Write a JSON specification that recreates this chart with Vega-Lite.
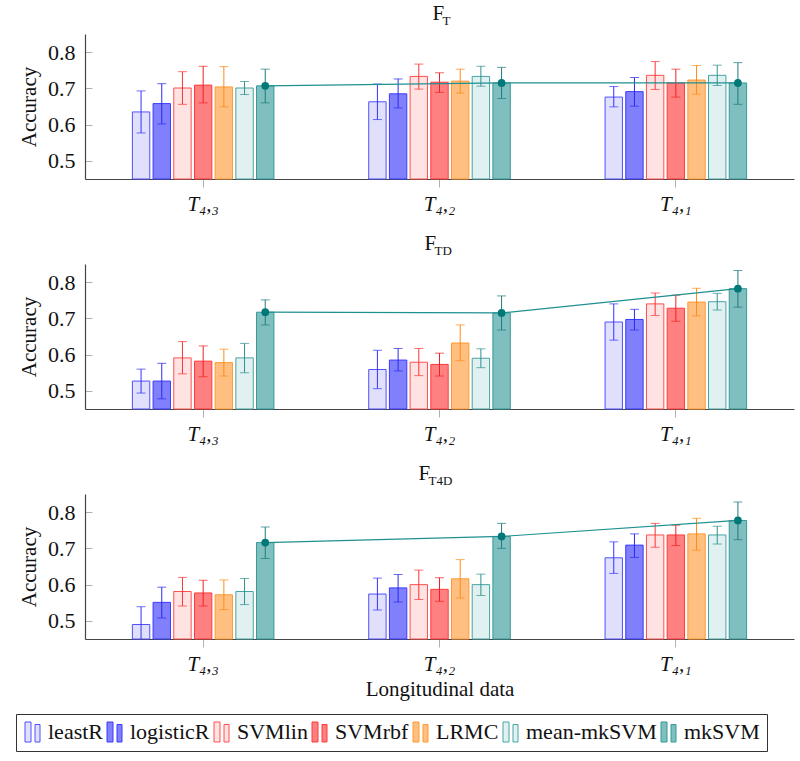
{
  "$schema": "https://vega.github.io/schema/vega-lite/v6.json",
  "padding": {"left": 15, "top": 3, "right": 4, "bottom": 5},
  "config": {
    "font": "Liberation Serif",
    "view": {"stroke": null},
    "style": {"guide-label": {"font": "Liberation Serif"}, "guide-title": {"font": "Liberation Serif"}, "group-title": {"font": "Liberation Serif"}, "group-subtitle": {"font": "Liberation Serif"}},
    "axis": {"grid": false, "domainColor": "#444", "domainWidth": 1.2, "tickColor": "#b0b0b0", "labelFont": "Liberation Serif", "titleFont": "Liberation Serif", "labelColor": "#111", "titleColor": "#111", "titleFontWeight": "normal"},
    "legend": {"labelFont": "Liberation Serif", "orient": "none", "legendX": -69, "legendY": 680, "direction": "horizontal", "symbolType": "M-0.9,-1H-0.3V1H-0.9Z M0.1,-0.75H0.6V1H0.1Z", "symbolSize": 400, "symbolStrokeWidth": 1, "labelFontSize": 22, "labelColor": "#111", "labelOffset": 3, "columnPadding": 2, "strokeColor": "#333", "padding": 7},
    "title": {"font": "Liberation Serif", "fontWeight": "normal", "color": "#111", "subtitleColor": "#111", "subtitleFont": "Liberation Serif"}
  },
  "datasets": {
    "d": [
      {"f": "FT", "t": "T₄,₃", "m": "leastR", "v": 0.635, "lo": 0.577, "hi": 0.693},
      {"f": "FT", "t": "T₄,₃", "m": "logisticR", "v": 0.658, "lo": 0.602, "hi": 0.713},
      {"f": "FT", "t": "T₄,₃", "m": "SVMlin", "v": 0.701, "lo": 0.656, "hi": 0.746},
      {"f": "FT", "t": "T₄,₃", "m": "SVMrbf", "v": 0.709, "lo": 0.660, "hi": 0.761},
      {"f": "FT", "t": "T₄,₃", "m": "LRMC", "v": 0.704, "lo": 0.649, "hi": 0.760},
      {"f": "FT", "t": "T₄,₃", "m": "mean-mkSVM", "v": 0.701, "lo": 0.683, "hi": 0.719},
      {"f": "FT", "t": "T₄,₃", "m": "mkSVM", "v": 0.707, "lo": 0.660, "hi": 0.753},
      {"f": "FT", "t": "T₄,₂", "m": "leastR", "v": 0.663, "lo": 0.614, "hi": 0.712},
      {"f": "FT", "t": "T₄,₂", "m": "logisticR", "v": 0.685, "lo": 0.646, "hi": 0.726},
      {"f": "FT", "t": "T₄,₂", "m": "SVMlin", "v": 0.733, "lo": 0.698, "hi": 0.767},
      {"f": "FT", "t": "T₄,₂", "m": "SVMrbf", "v": 0.717, "lo": 0.689, "hi": 0.743},
      {"f": "FT", "t": "T₄,₂", "m": "LRMC", "v": 0.720, "lo": 0.687, "hi": 0.753},
      {"f": "FT", "t": "T₄,₂", "m": "mean-mkSVM", "v": 0.733, "lo": 0.706, "hi": 0.761},
      {"f": "FT", "t": "T₄,₂", "m": "mkSVM", "v": 0.715, "lo": 0.672, "hi": 0.758},
      {"f": "FT", "t": "T₄,₁", "m": "leastR", "v": 0.676, "lo": 0.649, "hi": 0.705},
      {"f": "FT", "t": "T₄,₁", "m": "logisticR", "v": 0.691, "lo": 0.651, "hi": 0.730},
      {"f": "FT", "t": "T₄,₁", "m": "SVMlin", "v": 0.736, "lo": 0.697, "hi": 0.774},
      {"f": "FT", "t": "T₄,₁", "m": "SVMrbf", "v": 0.715, "lo": 0.676, "hi": 0.753},
      {"f": "FT", "t": "T₄,₁", "m": "LRMC", "v": 0.723, "lo": 0.684, "hi": 0.763},
      {"f": "FT", "t": "T₄,₁", "m": "mean-mkSVM", "v": 0.736, "lo": 0.708, "hi": 0.764},
      {"f": "FT", "t": "T₄,₁", "m": "mkSVM", "v": 0.715, "lo": 0.656, "hi": 0.771},
      {"f": "FTD", "t": "T₄,₃", "m": "leastR", "v": 0.527, "lo": 0.494, "hi": 0.560},
      {"f": "FTD", "t": "T₄,₃", "m": "logisticR", "v": 0.527, "lo": 0.478, "hi": 0.576},
      {"f": "FTD", "t": "T₄,₃", "m": "SVMlin", "v": 0.591, "lo": 0.547, "hi": 0.636},
      {"f": "FTD", "t": "T₄,₃", "m": "SVMrbf", "v": 0.582, "lo": 0.539, "hi": 0.624},
      {"f": "FTD", "t": "T₄,₃", "m": "LRMC", "v": 0.578, "lo": 0.541, "hi": 0.615},
      {"f": "FTD", "t": "T₄,₃", "m": "mean-mkSVM", "v": 0.591, "lo": 0.550, "hi": 0.631},
      {"f": "FTD", "t": "T₄,₃", "m": "mkSVM", "v": 0.717, "lo": 0.682, "hi": 0.751},
      {"f": "FTD", "t": "T₄,₂", "m": "leastR", "v": 0.559, "lo": 0.506, "hi": 0.612},
      {"f": "FTD", "t": "T₄,₂", "m": "logisticR", "v": 0.585, "lo": 0.555, "hi": 0.617},
      {"f": "FTD", "t": "T₄,₂", "m": "SVMlin", "v": 0.579, "lo": 0.542, "hi": 0.617},
      {"f": "FTD", "t": "T₄,₂", "m": "SVMrbf", "v": 0.573, "lo": 0.541, "hi": 0.604},
      {"f": "FTD", "t": "T₄,₂", "m": "LRMC", "v": 0.632, "lo": 0.583, "hi": 0.682},
      {"f": "FTD", "t": "T₄,₂", "m": "mean-mkSVM", "v": 0.590, "lo": 0.564, "hi": 0.616},
      {"f": "FTD", "t": "T₄,₂", "m": "mkSVM", "v": 0.715, "lo": 0.668, "hi": 0.762},
      {"f": "FTD", "t": "T₄,₁", "m": "leastR", "v": 0.690, "lo": 0.640, "hi": 0.740},
      {"f": "FTD", "t": "T₄,₁", "m": "logisticR", "v": 0.697, "lo": 0.668, "hi": 0.725},
      {"f": "FTD", "t": "T₄,₁", "m": "SVMlin", "v": 0.740, "lo": 0.708, "hi": 0.770},
      {"f": "FTD", "t": "T₄,₁", "m": "SVMrbf", "v": 0.728, "lo": 0.692, "hi": 0.764},
      {"f": "FTD", "t": "T₄,₁", "m": "LRMC", "v": 0.745, "lo": 0.707, "hi": 0.783},
      {"f": "FTD", "t": "T₄,₁", "m": "mean-mkSVM", "v": 0.746, "lo": 0.723, "hi": 0.769},
      {"f": "FTD", "t": "T₄,₁", "m": "mkSVM", "v": 0.782, "lo": 0.731, "hi": 0.832},
      {"f": "FT4D", "t": "T₄,₃", "m": "leastR", "v": 0.490, "lo": 0.441, "hi": 0.539},
      {"f": "FT4D", "t": "T₄,₃", "m": "logisticR", "v": 0.551, "lo": 0.508, "hi": 0.593},
      {"f": "FT4D", "t": "T₄,₃", "m": "SVMlin", "v": 0.581, "lo": 0.541, "hi": 0.620},
      {"f": "FT4D", "t": "T₄,₃", "m": "SVMrbf", "v": 0.577, "lo": 0.541, "hi": 0.612},
      {"f": "FT4D", "t": "T₄,₃", "m": "LRMC", "v": 0.572, "lo": 0.531, "hi": 0.613},
      {"f": "FT4D", "t": "T₄,₃", "m": "mean-mkSVM", "v": 0.581, "lo": 0.545, "hi": 0.617},
      {"f": "FT4D", "t": "T₄,₃", "m": "mkSVM", "v": 0.716, "lo": 0.672, "hi": 0.759},
      {"f": "FT4D", "t": "T₄,₂", "m": "leastR", "v": 0.574, "lo": 0.530, "hi": 0.618},
      {"f": "FT4D", "t": "T₄,₂", "m": "logisticR", "v": 0.591, "lo": 0.552, "hi": 0.628},
      {"f": "FT4D", "t": "T₄,₂", "m": "SVMlin", "v": 0.600, "lo": 0.559, "hi": 0.640},
      {"f": "FT4D", "t": "T₄,₂", "m": "SVMrbf", "v": 0.587, "lo": 0.554, "hi": 0.619},
      {"f": "FT4D", "t": "T₄,₂", "m": "LRMC", "v": 0.616, "lo": 0.563, "hi": 0.669},
      {"f": "FT4D", "t": "T₄,₂", "m": "mean-mkSVM", "v": 0.600, "lo": 0.570, "hi": 0.629},
      {"f": "FT4D", "t": "T₄,₂", "m": "mkSVM", "v": 0.733, "lo": 0.700, "hi": 0.769},
      {"f": "FT4D", "t": "T₄,₁", "m": "leastR", "v": 0.674, "lo": 0.631, "hi": 0.718},
      {"f": "FT4D", "t": "T₄,₁", "m": "logisticR", "v": 0.709, "lo": 0.675, "hi": 0.740},
      {"f": "FT4D", "t": "T₄,₁", "m": "SVMlin", "v": 0.737, "lo": 0.703, "hi": 0.769},
      {"f": "FT4D", "t": "T₄,₁", "m": "SVMrbf", "v": 0.737, "lo": 0.708, "hi": 0.764},
      {"f": "FT4D", "t": "T₄,₁", "m": "LRMC", "v": 0.740, "lo": 0.695, "hi": 0.783},
      {"f": "FT4D", "t": "T₄,₁", "m": "mean-mkSVM", "v": 0.737, "lo": 0.712, "hi": 0.761},
      {"f": "FT4D", "t": "T₄,₁", "m": "mkSVM", "v": 0.777, "lo": 0.724, "hi": 0.828}
    ]
  },
  "data": {"name": "d"},
  "spacing": 19,
  "resolve": {"scale": {"fill": "shared", "stroke": "shared", "color": "shared"}, "legend": {"fill": "shared", "stroke": "shared"}},
  "vconcat": [
    {
      "title": {"text": "F", "subtitle": "\u2800T", "anchor": "middle", "align": "left", "dx": -7, "fontSize": 21, "subtitleFontSize": 13, "subtitlePadding": -9, "offset": 6},
      "width": 709, "height": 145,
      "transform": [{"filter": "datum.f == 'FT'"}],
      "encoding": {
        "x": {"field": "t", "type": "nominal", "sort": ["T₄,₃", "T₄,₂", "T₄,₁"], "scale": {"paddingInner": 0.3135, "paddingOuter": 0.1567}, "axis": {"title": null, "labelAngle": 0, "labelFont": "Liberation Serif", "labelFontSize": 21, "labelFontStyle": "italic", "tickSize": 8, "labelPadding": 6}},
        "xOffset": {"field": "m", "type": "nominal", "sort": ["leastR", "logisticR", "SVMlin", "SVMrbf", "LRMC", "mean-mkSVM", "mkSVM"], "scale": {"paddingInner": 0.16, "paddingOuter": 0.5}}
      },
      "layer": [
        {"mark": {"type": "bar", "strokeWidth": 1},
         "encoding": {
           "y": {"field": "v", "type": "quantitative", "title": "Accuracy", "scale": {"domain": [0.45, 0.85], "zero": false, "nice": false}, "axis": {"values": [0.5, 0.6, 0.7, 0.8], "format": ".1f", "labelFont": "Liberation Serif", "labelFontSize": 22, "titleFontSize": 21, "tickSize": -7, "labelPadding": 17, "titlePadding": 8}},
           "y2": {"datum": 0.45},
           "fill": {"field": "m", "type": "nominal", "sort": ["leastR", "logisticR", "SVMlin", "SVMrbf", "LRMC", "mean-mkSVM", "mkSVM"], "scale": {"domain": ["leastR", "logisticR", "SVMlin", "SVMrbf", "LRMC", "mean-mkSVM", "mkSVM"], "range": ["#e0e0fc", "#8080fc", "#ffe3e3", "#ff8080", "#ffbf80", "#e1f1f1", "#80bfbf"]}, "legend": {"title": null, "labelFont": "Liberation Serif"}},
           "stroke": {"field": "m", "type": "nominal", "sort": ["leastR", "logisticR", "SVMlin", "SVMrbf", "LRMC", "mean-mkSVM", "mkSVM"], "scale": {"domain": ["leastR", "logisticR", "SVMlin", "SVMrbf", "LRMC", "mean-mkSVM", "mkSVM"], "range": ["#5050ff", "#3a3aff", "#ff5050", "#ff3a3a", "#ff9a33", "#48a3a3", "#339999"]}, "legend": {"title": null, "labelFont": "Liberation Serif"}}
         }},
        {"mark": {"type": "rule", "clip": true, "strokeWidth": 1},
         "encoding": {"y": {"field": "lo", "type": "quantitative", "title": "Accuracy"}, "y2": {"field": "hi"},
           "color": {"field": "m", "type": "nominal", "scale": {"domain": ["leastR", "logisticR", "SVMlin", "SVMrbf", "LRMC", "mean-mkSVM", "mkSVM"], "range": ["#3333ff", "#2a2aee", "#ff3333", "#ee2222", "#ff8a1a", "#2f9090", "#1f7a7a"]}, "legend": null}}},
        {"mark": {"type": "tick", "clip": true, "size": 9, "thickness": 1},
         "encoding": {"y": {"field": "hi", "type": "quantitative", "title": "Accuracy"}, "color": {"field": "m", "type": "nominal", "legend": null}}},
        {"mark": {"type": "tick", "clip": true, "size": 9, "thickness": 1},
         "encoding": {"y": {"field": "lo", "type": "quantitative", "title": "Accuracy"}, "color": {"field": "m", "type": "nominal", "legend": null}}},
        {"transform": [{"filter": "datum.m == 'mkSVM'"}], "mark": {"type": "line", "color": "#1f9090", "strokeWidth": 1.2},
         "encoding": {"y": {"field": "v", "type": "quantitative", "title": "Accuracy"}}},
        {"transform": [{"filter": "datum.m == 'mkSVM'"}], "mark": {"type": "point", "filled": true, "color": "#007878", "size": 60, "opacity": 1},
         "encoding": {"y": {"field": "v", "type": "quantitative", "title": "Accuracy"}}}
      ]
    },
    {
      "title": {"text": "F", "subtitle": "\u2800TD", "anchor": "middle", "align": "left", "dx": -15, "fontSize": 21, "subtitleFontSize": 13, "subtitlePadding": -9, "offset": 6},
      "width": 709, "height": 145,
      "transform": [{"filter": "datum.f == 'FTD'"}],
      "encoding": {
        "x": {"field": "t", "type": "nominal", "sort": ["T₄,₃", "T₄,₂", "T₄,₁"], "scale": {"paddingInner": 0.3135, "paddingOuter": 0.1567}, "axis": {"title": null, "labelAngle": 0, "labelFont": "Liberation Serif", "labelFontSize": 21, "labelFontStyle": "italic", "tickSize": 8, "labelPadding": 6}},
        "xOffset": {"field": "m", "type": "nominal", "sort": ["leastR", "logisticR", "SVMlin", "SVMrbf", "LRMC", "mean-mkSVM", "mkSVM"], "scale": {"paddingInner": 0.16, "paddingOuter": 0.5}}
      },
      "layer": [
        {"mark": {"type": "bar", "strokeWidth": 1},
         "encoding": {
           "y": {"field": "v", "type": "quantitative", "title": "Accuracy", "scale": {"domain": [0.45, 0.85], "zero": false, "nice": false}, "axis": {"values": [0.5, 0.6, 0.7, 0.8], "format": ".1f", "labelFont": "Liberation Serif", "labelFontSize": 22, "titleFontSize": 21, "tickSize": -7, "labelPadding": 17, "titlePadding": 8}},
           "y2": {"datum": 0.45},
           "fill": {"field": "m", "type": "nominal", "legend": {"title": null, "labelFont": "Liberation Serif"}},
           "stroke": {"field": "m", "type": "nominal", "legend": {"title": null, "labelFont": "Liberation Serif"}}
         }},
        {"mark": {"type": "rule", "clip": true, "strokeWidth": 1},
         "encoding": {"y": {"field": "lo", "type": "quantitative", "title": "Accuracy"}, "y2": {"field": "hi"}, "color": {"field": "m", "type": "nominal", "legend": null}}},
        {"mark": {"type": "tick", "clip": true, "size": 9, "thickness": 1},
         "encoding": {"y": {"field": "hi", "type": "quantitative", "title": "Accuracy"}, "color": {"field": "m", "type": "nominal", "legend": null}}},
        {"mark": {"type": "tick", "clip": true, "size": 9, "thickness": 1},
         "encoding": {"y": {"field": "lo", "type": "quantitative", "title": "Accuracy"}, "color": {"field": "m", "type": "nominal", "legend": null}}},
        {"transform": [{"filter": "datum.m == 'mkSVM'"}], "mark": {"type": "line", "color": "#1f9090", "strokeWidth": 1.2},
         "encoding": {"y": {"field": "v", "type": "quantitative", "title": "Accuracy"}}},
        {"transform": [{"filter": "datum.m == 'mkSVM'"}], "mark": {"type": "point", "filled": true, "color": "#007878", "size": 60, "opacity": 1},
         "encoding": {"y": {"field": "v", "type": "quantitative", "title": "Accuracy"}}}
      ]
    },
    {
      "title": {"text": "F", "subtitle": "\u2800T4D", "anchor": "middle", "align": "left", "dx": -21, "fontSize": 21, "subtitleFontSize": 13, "subtitlePadding": -9, "offset": 6},
      "width": 709, "height": 145,
      "transform": [{"filter": "datum.f == 'FT4D'"}],
      "encoding": {
        "x": {"field": "t", "type": "nominal", "sort": ["T₄,₃", "T₄,₂", "T₄,₁"], "scale": {"paddingInner": 0.3135, "paddingOuter": 0.1567}, "axis": {"title": "Longitudinal data", "titleFontSize": 21, "titlePadding": 4, "labelAngle": 0, "labelFont": "Liberation Serif", "labelFontSize": 21, "labelFontStyle": "italic", "tickSize": 8, "labelPadding": 6}},
        "xOffset": {"field": "m", "type": "nominal", "sort": ["leastR", "logisticR", "SVMlin", "SVMrbf", "LRMC", "mean-mkSVM", "mkSVM"], "scale": {"paddingInner": 0.16, "paddingOuter": 0.5}}
      },
      "layer": [
        {"mark": {"type": "bar", "strokeWidth": 1},
         "encoding": {
           "y": {"field": "v", "type": "quantitative", "title": "Accuracy", "scale": {"domain": [0.45, 0.85], "zero": false, "nice": false}, "axis": {"values": [0.5, 0.6, 0.7, 0.8], "format": ".1f", "labelFont": "Liberation Serif", "labelFontSize": 22, "titleFontSize": 21, "tickSize": -7, "labelPadding": 17, "titlePadding": 8}},
           "y2": {"datum": 0.45},
           "fill": {"field": "m", "type": "nominal", "legend": {"title": null, "labelFont": "Liberation Serif"}},
           "stroke": {"field": "m", "type": "nominal", "legend": {"title": null, "labelFont": "Liberation Serif"}}
         }},
        {"mark": {"type": "rule", "clip": true, "strokeWidth": 1},
         "encoding": {"y": {"field": "lo", "type": "quantitative", "title": "Accuracy"}, "y2": {"field": "hi"}, "color": {"field": "m", "type": "nominal", "legend": null}}},
        {"mark": {"type": "tick", "clip": true, "size": 9, "thickness": 1},
         "encoding": {"y": {"field": "hi", "type": "quantitative", "title": "Accuracy"}, "color": {"field": "m", "type": "nominal", "legend": null}}},
        {"mark": {"type": "tick", "clip": true, "size": 9, "thickness": 1},
         "encoding": {"y": {"field": "lo", "type": "quantitative", "title": "Accuracy"}, "color": {"field": "m", "type": "nominal", "legend": null}}},
        {"transform": [{"filter": "datum.m == 'mkSVM'"}], "mark": {"type": "line", "color": "#1f9090", "strokeWidth": 1.2},
         "encoding": {"y": {"field": "v", "type": "quantitative", "title": "Accuracy"}}},
        {"transform": [{"filter": "datum.m == 'mkSVM'"}], "mark": {"type": "point", "filled": true, "color": "#007878", "size": 60, "opacity": 1},
         "encoding": {"y": {"field": "v", "type": "quantitative", "title": "Accuracy"}}}
      ]
    }
  ]
}
